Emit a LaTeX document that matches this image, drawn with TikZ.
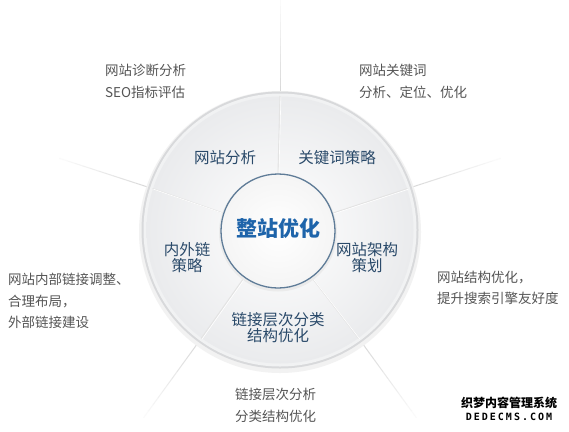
\documentclass[tikz,border=0pt]{standalone}
\usepackage{fontspec}
\setmainfont{Noto Sans CJK SC}
\newfontfamily\wmfont{DejaVu Sans Mono}
\usetikzlibrary{calc}
\definecolor{ringtxt}{HTML}{2A4A6A}
\definecolor{ctxt}{HTML}{1E64AA}
\definecolor{outtxt}{HTML}{555555}
\definecolor{innerborder}{HTML}{5F7C98}
\definecolor{ringedge}{HTML}{D8D9DB}
\definecolor{ringfill}{HTML}{EAEBED}
\tikzset{
  outertext/.style={anchor=west, align=left, font=\fontsize{13.5}{21.5}\selectfont, text=outtxt, inner sep=0pt},
  ringlabel/.style={align=center, font=\fontsize{15.5}{16}\selectfont, text=ringtxt, inner sep=0pt},
  centerlabel/.style={font=\bfseries\fontsize{21}{22}\selectfont, text=ctxt, inner sep=0pt},
  spokein/.style={draw=black!11, line width=1.1pt},
}
\begin{document}
\begin{tikzpicture}[x=1pt,y=1pt]
\useasboundingbox (0,0) rectangle (569,-431);
\fill[white] (0,0) rectangle (569,-431);
\coordinate (c) at (280,-230);
\coordinate (ic) at (278,-231);
% outer spokes (fading)
\foreach \a in {90,18,-54,-126,162}{
  \foreach \i in {0,...,11}{
    \pgfmathsetmacro{\shadeval}{15-\i*1.2}
    \draw[line width=1pt, color=black!\shadeval]
      ($(c)+(\a:{136+\i*8})$) -- ($(c)+(\a:{136+(\i+1)*8})$);
  }
}
% ring
\fill[black!5] ($(c)+(0,-2)$) circle (141);
\fill[ringedge] (c) circle (138.5);
\fill[white!65!ringedge] (c) circle (136.5);
\shade[inner color=white, outer color=ringfill] (c) circle (133.5);
% inner spokes
\foreach \a in {90,18,-54,-126,162}{
  \draw[spokein] ($(ic)+(\a:56)$) -- ($(c)+(\a:134)$);
  \draw[white, line width=0.6pt] ($(ic)+(\a:56)+(0.9,-0.6)$) -- ($(c)+(\a:134)+(0.9,-0.6)$);
}
% inner circle
\fill[black!8] ($(ic)+(0,-1.5)$) circle (59);
\shade[inner color=white, outer color=black!4] (ic) circle (57);
\draw[innerborder, line width=1.3pt] (ic) circle (57);
\node[centerlabel] (center) at (278,-228) {整站优化};
% ring labels
\node[ringlabel] (r1) at (225,-158) {网站分析};
\node[ringlabel] (r2) at (337,-158) {关键词策略};
\node[ringlabel] (r3) at (367,-258) {网站架构\\策划};
\node[ringlabel] (r4) at (187,-258) {内外链\\策略};
\node[ringlabel] (r5) at (278,-328) {链接层次分类\\结构优化};
% outer texts
\node[outertext] (o1) at (105,-81.5) {网站诊断分析\\SEO指标评估};
\node[outertext] (o2) at (359,-81.5) {网站关键词\\分析、定位、优化};
\node[outertext] (o3) at (8,-301) {网站内部链接调整、\\合理布局，\\外部链接建设};
\node[outertext] (o4) at (437,-288) {网站结构优化，\\提升搜索引擎友好度};
\node[outertext] (o5) at (235,-405.5) {链接层次分析\\分类结构优化};
% watermark
\node[inner sep=0pt, font=\bfseries\fontsize{12}{12}\selectfont, text=black] (w1) at (509,-403) {织梦内容管理系统};
\node[inner sep=0pt, font=\wmfont\bfseries\fontsize{10}{10}\selectfont\addfontfeature{LetterSpace=20}, text=black] (w2) at (509,-417) {DEDECMS.COM};
\end{tikzpicture}
\end{document}
